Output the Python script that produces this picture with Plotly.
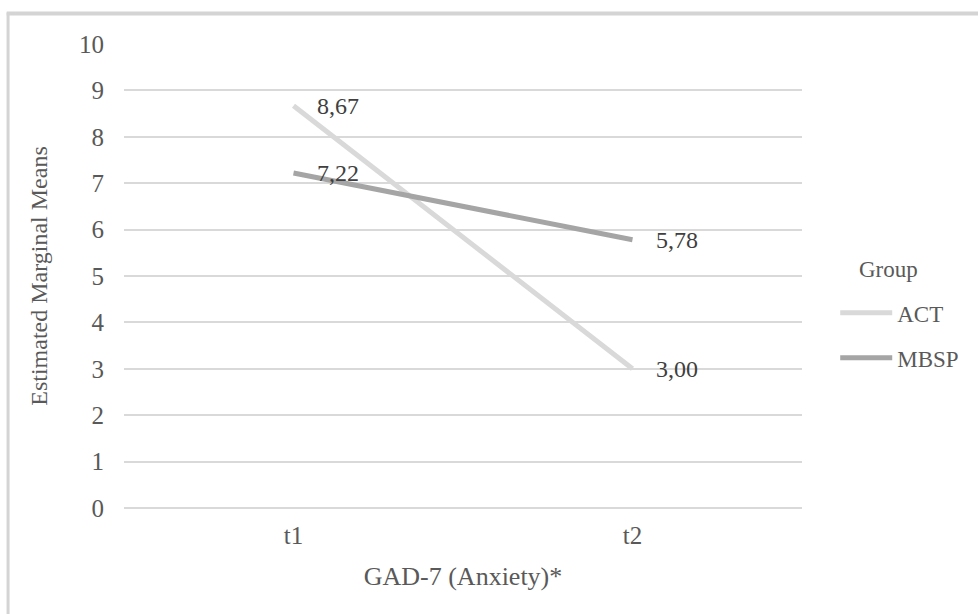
import plotly.graph_objects as go

# Estimated marginal means of GAD-7 scores by group and time point
time_points = ["t1", "t2"]
act_means = [8.67, 3.00]
mbsp_means = [7.22, 5.78]
group_names = ["ACT", "MBSP"]
group_colors = ["#d9d9d9", "#a5a5a5"]
y_ticks = list(range(0, 11))

FONT = "'Liberation Serif', 'Times New Roman', 'DejaVu Serif', serif"
TEXT = "#595959"
GRID = "#d9d9d9"
BORDER = "#d4d4d4"

fig = go.Figure()
for name, values, color in zip(group_names, [act_means, mbsp_means], group_colors):
    fig.add_trace(go.Scatter(
        x=time_points, y=values, name=name, mode="lines",
        line=dict(color=color, width=5),
        legendgroup=name,
    ))

# value labels to the right of each point, formatted with a decimal comma
for values in [act_means, mbsp_means]:
    for t, v in zip(time_points, values):
        fig.add_annotation(
            x=t, y=v, text=f"{v:.2f}".replace(".", ","),
            showarrow=False, xanchor="left", yanchor="middle", xshift=21,
            font=dict(family=FONT, size=24, color="#404040"),
        )

# legend heading
fig.add_annotation(
    xref="paper", yref="paper", x=1.081, y=0.513, text="Group",
    showarrow=False, xanchor="left", yanchor="middle",
    font=dict(family=FONT, size=23, color=TEXT),
)

# chart border: left and top edges (the others fall outside the page)
fig.add_shape(type="line", xref="paper", yref="paper",
              x0=-0.171, y0=-0.3, x1=-0.171, y1=1.068,
              line=dict(color=BORDER, width=3))
fig.add_shape(type="line", xref="paper", yref="paper",
              x0=-0.173, y0=1.066, x1=1.3, y1=1.066,
              line=dict(color=BORDER, width=4))

fig.update_layout(
    width=978, height=614,
    margin=dict(l=124, r=176, t=44, b=106),
    paper_bgcolor="white", plot_bgcolor="white",
    font=dict(family=FONT, size=25, color=TEXT),
    showlegend=True,
    legend=dict(
        x=1.049, y=0.372, xanchor="left", yanchor="middle",
        font=dict(family=FONT, size=23, color=TEXT),
        tracegroupgap=12, itemwidth=52, bgcolor="rgba(0,0,0,0)",
    ),
    xaxis=dict(
        type="category", range=[-0.5, 1.5],
        showgrid=False, showline=False, zeroline=False, ticks="",
        ticklabelstandoff=10, tickfont=dict(family=FONT, size=25, color=TEXT),
        title=dict(text="GAD-7 (Anxiety)*", standoff=18,
                   font=dict(family=FONT, size=26, color=TEXT)),
    ),
    yaxis=dict(
        range=[0, 10], tickvals=y_ticks, ticks="",
        showgrid=True, gridcolor=GRID, gridwidth=1.5,
        zeroline=True, zerolinecolor=GRID, zerolinewidth=1.5,
        showline=False, ticklabelstandoff=19,
        tickfont=dict(family=FONT, size=25, color=TEXT),
        title=dict(text="Estimated Marginal Means", standoff=24,
                   font=dict(family=FONT, size=24, color=TEXT)),
    ),
)

fig.write_html("out.html")
